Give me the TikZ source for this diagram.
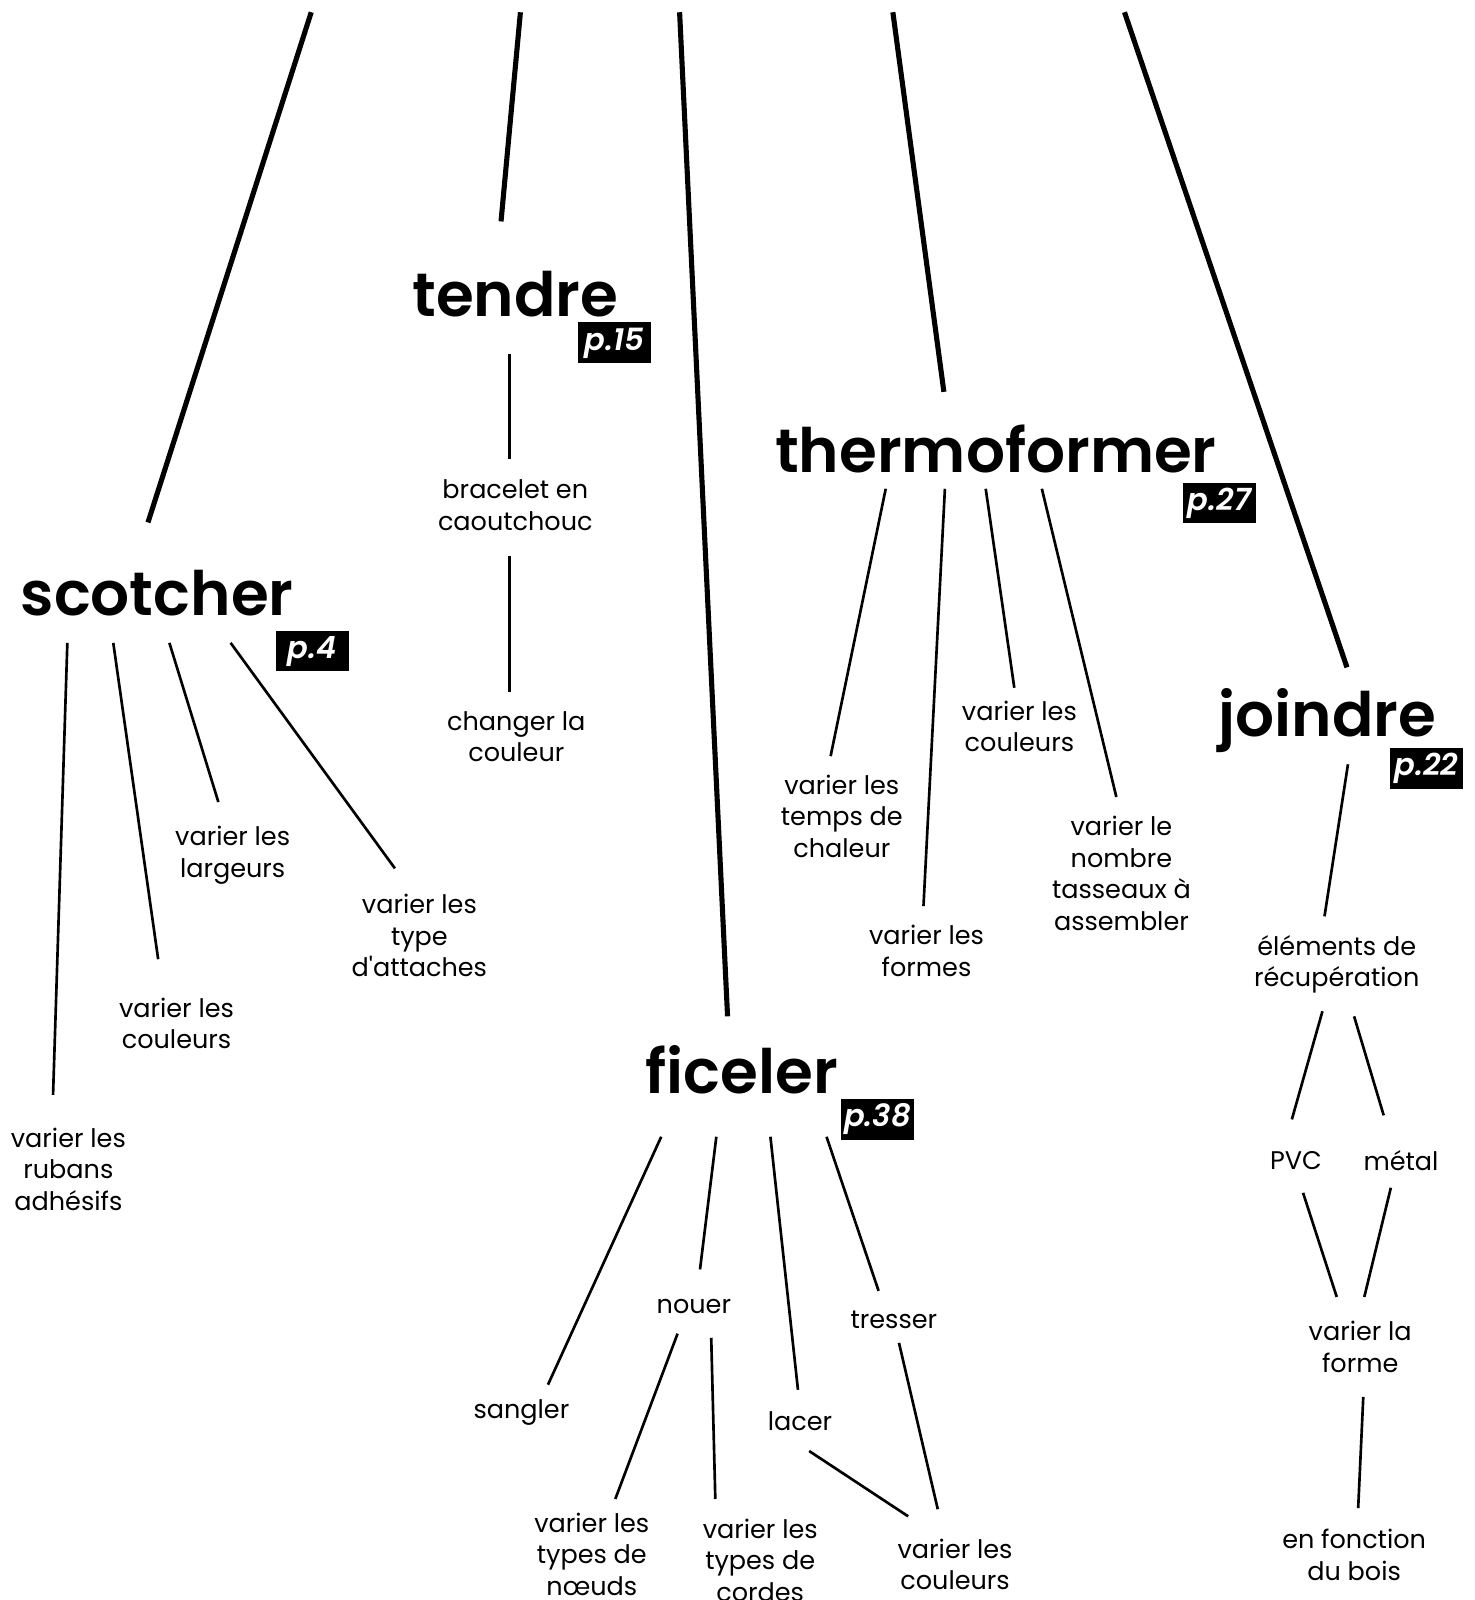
\documentclass[tikz,border=0pt]{standalone}
\usepackage{fontspec}
\setmainfont{Poppins}[Ligatures=TeXOff, BoldFont={Poppins SemiBold}, BoldItalicFont={Poppins SemiBold Italic}]
\usetikzlibrary{calc}

\begin{document}
\begin{tikzpicture}[x=1pt,y=-1pt,
    head/.style={font=\fontsize{60}{60}\selectfont\bfseries, inner sep=0pt, anchor=base},
    tag/.style={fill=black, text=white, font=\fontsize{30}{30}\selectfont\bfseries\itshape,
      minimum width=72pt, minimum height=40pt, inner sep=0pt},
    txt/.style={font=\fontsize{25}{31}\selectfont, align=center, inner sep=0pt},
    link/.style={black, line width=2.6pt},
    stem/.style={black, line width=5pt}]
  \useasboundingbox[fill=white] (0,0) rectangle (1445,1568);

  % main verbs
  \node[head] (sc) at (154,603) {scotcher};
  \node[head] (te) at (505,310) {tendre};
  \node[head] (th) at (976,463) {thermoformer};
  \node[head] (jo) at (1301,722) {joindre};
  \node[head] (fi) at (727,1072) {ficeler};

  \node[tag] (sctag) at (306,638) {p.4};
  \node[tag] (tetag) at (602,336) {p.15};
  \node[tag] (thtag) at (1195,493) {p.27};
  \node[tag] (jotag) at (1398,753) {p.22};
  \node[tag] (fitag) at (860,1097) {p.38};

  % stems from the top edge
  \coordinate (top1) at (305,12);
  \coordinate (top2) at (510,12);
  \coordinate (top3) at (666,12);
  \coordinate (top4) at (875,12);
  \coordinate (top5) at (1102,12);
  \draw[stem] (top1) -- ($(sc.base)+(-9,-91)$);
  \draw[stem] (top2) -- ($(te.base)+(-14,-93)$);
  \draw[stem] (top3) -- ($(fi.base)+(-14,-76)$);
  \draw[stem] (top4) -- ($(th.base)+(-51,-79)$);
  \draw[stem] (top5) -- ($(jo.base)+(19,-68)$);

  % scotcher
  \node[txt] (sc1) at (67,1146) {varier les\\rubans\\adhésifs};
  \node[txt] (sc2) at (173,1003) {varier les\\couleurs};
  \node[txt] (sc3) at (228,838) {varier les\\largeurs};
  \node[txt] (sc4) at (411,917) {varier les\\type\\d'attaches};
  \draw[link] ($(sc.base)+(-88,27)$) -- ($(sc1)+(-15,-73)$);
  \draw[link] ($(sc.base)+(-43,27)$) -- ($(sc2)+(-18,-63)$);
  \draw[link] ($(sc.base)+(12,27)$) -- ($(sc3)+(-14,-52)$);
  \draw[link] ($(sc.base)+(72,27)$) -- ($(sc4)+(-24,-66)$);

  % tendre
  \node[txt] (te1) at (505,495) {bracelet en\\caoutchouc};
  \node[txt] (te2) at (506,722) {changer la\\couleur};
  \draw[link] ($(te.base)+(-6,37)$) -- ($(te1)+(-6,-45)$);
  \draw[link] ($(te1)+(-6,50)$) -- ($(te2)+(-7,-44)$);

  % thermoformer
  \node[txt] (th1) at (825,800) {varier les\\temps de\\chaleur};
  \node[txt] (th2) at (908,932) {varier les\\formes};
  \node[txt] (th3) at (999,712) {varier les\\couleurs};
  \node[txt] (th4) at (1099,856) {varier le\\nombre\\tasseaux à\\assembler};
  \draw[link] ($(th.base)+(-108,16)$) -- ($(th1)+(-11,-59)$);
  \draw[link] ($(th.base)+(-50,16)$) -- ($(th2)+(-3,-44)$);
  \draw[link] ($(th.base)+(-10,16)$) -- ($(th3)+(-5,-38)$);
  \draw[link] ($(th.base)+(45,16)$) -- ($(th4)+(-5,-75)$);

  % joindre
  \node[txt] (jo1) at (1310,945) {éléments de\\récupération};
  \node[txt] (jo2) at (1270,1137) {PVC};
  \node[txt] (jo3) at (1373,1137) {métal};
  \node[txt] (jo4) at (1333,1320) {varier la\\forme};
  \node[txt] (jo5) at (1327,1524) {en fonction\\du bois};
  \draw[link] ($(jo.base)+(20,27)$) -- ($(jo1)+(-12,-47)$);
  \draw[link] ($(jo1)+(-14,46)$) -- ($(jo2)+(-4,-40)$);
  \draw[link] ($(jo1)+(17,51)$) -- ($(jo3)+(-17,-44)$);
  \draw[link] ($(jo2)+(7,32)$) -- ($(jo4)+(-23,-49)$);
  \draw[link] ($(jo3)+(-10,27)$) -- ($(jo4)+(4,-49)$);
  \draw[link] ($(jo4)+(3,49)$) -- ($(jo5)+(4,-46)$);

  % ficeler
  \node[txt] (fi1) at (511,1384) {sangler};
  \node[txt] (fi2) at (680,1280) {nouer};
  \node[txt] (fi3) at (784,1393) {lacer};
  \node[txt] (fi4) at (876,1293) {tresser};
  \node[txt] (fi5) at (580,1523) {varier les\\types de\\nœuds};
  \node[txt] (fi6) at (745,1529) {varier les\\types de\\cordes};
  \node[txt] (fi7) at (936,1533) {varier les\\couleurs};
  \draw[link] ($(fi.base)+(-79,42)$) -- ($(fi1)+(26,-27)$);
  \draw[link] ($(fi.base)+(-25,42)$) -- ($(fi2)+(6,-36)$);
  \draw[link] ($(fi.base)+(28,42)$) -- ($(fi3)+(-2,-31)$);
  \draw[link] ($(fi.base)+(83,42)$) -- ($(fi4)+(-15,-28)$);
  \draw[link] ($(fi2)+(-16,27)$) -- ($(fi5)+(23,-54)$);
  \draw[link] ($(fi2)+(17,31)$) -- ($(fi6)+(-44,-60)$);
  \draw[link] ($(fi3)+(9,29)$) -- ($(fi7)+(-46,-47)$);
  \draw[link] ($(fi4)+(5,23)$) -- ($(fi7)+(-17,-54)$);
\end{tikzpicture}
\end{document}
